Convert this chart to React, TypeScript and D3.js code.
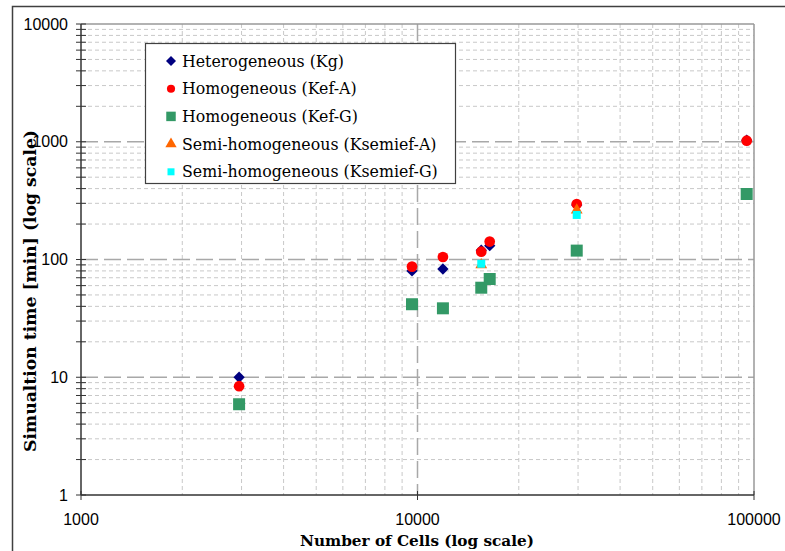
import React from "react";
import * as d3 from "d3";

const cells = [2950, 9630, 11900, 15470, 16390, 29730, 95130];
const kgValues = [10, 80, 83, 120, 131, 290, 1030];
const kefAValues = [8.4, 87, 105, 116.5, 142, 296, 1021];
const kefGValues = [5.9, 41.7, 38.5, 57.6, 68.3, 119, 360];
const semiCells = [15470, 29730];
const ksemiefAValues = [90, 263];
const ksemiefGValues = [92, 239];

const xTicks = [1000, 10000, 100000];
const yTicks = [1, 10, 100, 1000, 10000];

const seriesNames = [
  "Heterogeneous (Kg)",
  "Homogeneous (Kef-A)",
  "Homogeneous (Kef-G)",
  "Semi-homogeneous (Ksemief-A)",
  "Semi-homogeneous (Ksemief-G)",
];

const W = 785;
const H = 551;
const X0 = 81, X1 = 754, Y0 = 24, Y1 = 495;

const x = d3.scaleLog().domain([1000, 100000]).range([X0, X1]);
const y = d3.scaleLog().domain([1, 10000]).range([Y1, Y0]);

type Style = { kind: "diamond" | "circle" | "square" | "triangle"; color: string; size: number; lsize: number };
const styles: Style[] = [
  { kind: "diamond", color: "#000080", size: 64, lsize: 50 },
  { kind: "circle", color: "#ff0000", size: 90, lsize: 52 },
  { kind: "square", color: "#339966", size: 144, lsize: 90 },
  { kind: "triangle", color: "#ff6600", size: 60, lsize: 55 },
  { kind: "square", color: "#00ffff", size: 64, lsize: 49 },
];

function markerPath(s: Style, size: number) {
  const t =
    s.kind === "diamond" || s.kind === "square"
      ? d3.symbolSquare
      : s.kind === "circle"
      ? d3.symbolCircle
      : d3.symbolTriangle;
  return d3.symbol().type(t).size(size)() as string;
}

function Marker({ s, cx, cy, size }: { s: Style; cx: number; cy: number; size: number }) {
  const rot = s.kind === "diamond" ? " rotate(45)" : "";
  return <path d={markerPath(s, size)} transform={`translate(${cx},${cy})${rot}`} fill={s.color} />;
}

const series = [
  { xs: cells, ys: kgValues },
  { xs: cells, ys: kefAValues },
  { xs: cells, ys: kefGValues },
  { xs: semiCells, ys: ksemiefAValues },
  { xs: semiCells, ys: ksemiefGValues },
];

export default function App() {
  const minorX: number[] = [];
  const minorY: number[] = [];
  for (let d = 1000; d < 100000; d *= 10) for (let k = 2; k <= 9; k++) minorX.push(d * k);
  for (let d = 1; d < 10000; d *= 10) for (let k = 2; k <= 9; k++) minorY.push(d * k);
  const majorGridY = [10, 100, 1000];
  const majorGridX = [10000];

  const legendX = 145.5, legendY = 43.5, legendW = 310, legendH = 140;
  const entryY0 = 61, entryDy = 27.7;

  return (
    <svg width={W} height={H} style={{ position: "absolute", left: 0, top: 0, background: "#fff" }}>
      <rect x={0} y={0} width={W} height={H} fill="#fff" />
      {/* outer frame */}
      <rect x={12.5} y={6.5} width={W} height={H} fill="none" stroke="#404040" strokeWidth={1.5} />
      {/* minor grid */}
      {minorX.map((v) => (
        <line key={"mx" + v} x1={x(v)} x2={x(v)} y1={Y0} y2={Y1} stroke="#c8c8c8" strokeWidth={1} strokeDasharray="4,3" />
      ))}
      {minorY.map((v) => (
        <line key={"my" + v} x1={X0} x2={X1} y1={y(v)} y2={y(v)} stroke="#c8c8c8" strokeWidth={1} strokeDasharray="4,3" />
      ))}
      {/* major grid */}
      {majorGridX.map((v) => (
        <line key={"Mx" + v} x1={x(v)} x2={x(v)} y1={Y0} y2={Y1} stroke="#a8a8a8" strokeWidth={1.5} strokeDasharray="17,6" />
      ))}
      {majorGridY.map((v) => (
        <line key={"My" + v} x1={X0} x2={X1} y1={y(v)} y2={y(v)} stroke="#a8a8a8" strokeWidth={1.5} strokeDasharray="17,6" />
      ))}
      {/* plot border top/right */}
      <line x1={X0} x2={X1} y1={Y0} y2={Y0} stroke="#999" strokeWidth={1.5} />
      <line x1={X1} x2={X1} y1={Y0} y2={Y1} stroke="#999" strokeWidth={1.5} />
      {/* axes */}
      <line x1={X0} x2={X0} y1={Y0} y2={Y1} stroke="#333" strokeWidth={1.5} />
      <line x1={X0} x2={X1} y1={Y1} y2={Y1} stroke="#333" strokeWidth={1.5} />
      {[...yTicks, ...minorY].map((v) => (
        <line key={"yt" + v} x1={X0 - 5} x2={X0 + 5} y1={y(v)} y2={y(v)} stroke="#333" strokeWidth={1} />
      ))}
      {xTicks.map((v) => (
        <line key={"xt" + v} x1={x(v)} x2={x(v)} y1={Y1 - 4} y2={Y1 + 5} stroke="#333" strokeWidth={1} />
      ))}
      {/* tick labels */}
      {yTicks.map((v) => (
        <text key={"yl" + v} x={X0 - 13} y={y(v)} dy="0.35em" textAnchor="end" fontFamily="Liberation Sans, Arial, sans-serif" fontSize={16} fill="#000">
          {v}
        </text>
      ))}
      {xTicks.map((v) => (
        <text key={"xl" + v} x={x(v)} y={525} textAnchor="middle" fontFamily="Liberation Sans, Arial, sans-serif" fontSize={16} fill="#000">
          {v}
        </text>
      ))}
      {/* axis titles */}
      <text x={417} y={546} textAnchor="middle" fontFamily="DejaVu Serif, serif" fontWeight="bold" fontSize={15} textLength={234} lengthAdjust="spacingAndGlyphs">
        Number of Cells (log scale)
      </text>
      <text
        transform={`translate(36,291) rotate(-90)`}
        textAnchor="middle"
        fontFamily="DejaVu Serif, serif"
        fontWeight="bold"
        fontSize={16}
        textLength={322}
        lengthAdjust="spacingAndGlyphs"
      >
        Simualtion time [min] (log scale)
      </text>
      {/* data */}
      {series.map((s, i) =>
        s.xs.map((cx, j) => <Marker key={`p${i}-${j}`} s={styles[i]} cx={x(cx)} cy={y(s.ys[j])} size={styles[i].size} />)
      )}
      {/* legend */}
      <rect x={legendX} y={legendY} width={legendW} height={legendH} fill="#fff" stroke="#404040" strokeWidth={1.2} />
      {seriesNames.map((name, i) => (
        <g key={name}>
          <Marker s={styles[i]} cx={171} cy={entryY0 + i * entryDy} size={styles[i].lsize} />
          <text x={182} y={entryY0 + i * entryDy} dy="0.36em" fontFamily="DejaVu Serif, serif" fontSize={15.8} fill="#000">
            {name}
          </text>
        </g>
      ))}
    </svg>
  );
}
